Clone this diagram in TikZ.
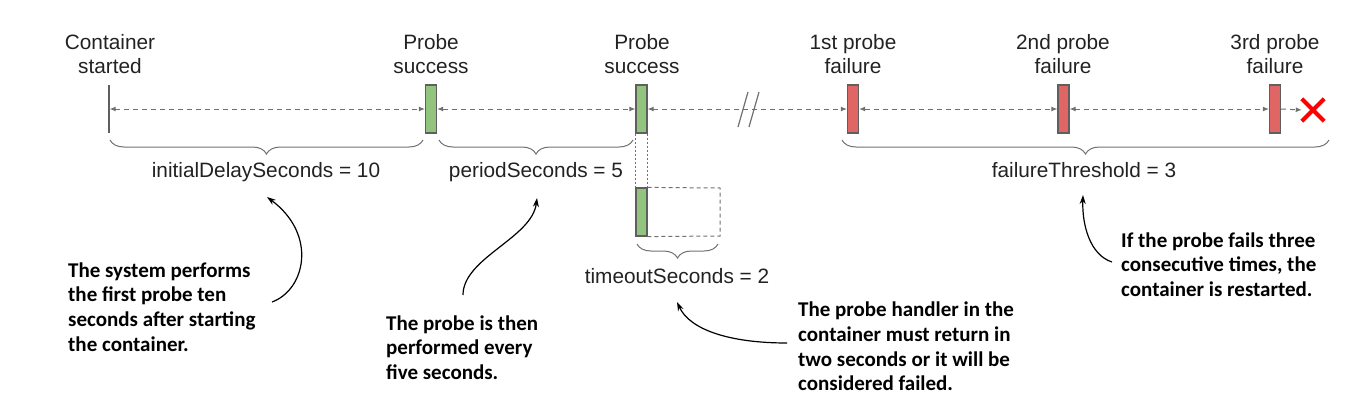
\documentclass[tikz,border=0pt]{standalone}
\usepackage{fontspec}
\setmainfont{Liberation Sans}
\newfontfamily\calibfont{Carlito}
\usetikzlibrary{arrows.meta,decorations.pathreplacing}
\definecolor{okgreen}{HTML}{93C47D}
\definecolor{badred}{HTML}{E06666}
\definecolor{edgegray}{HTML}{5F5F5F}
\definecolor{linegray}{HTML}{707070}
\definecolor{txt}{HTML}{222222}
\tikzset{
  probebox/.style={draw=edgegray, line width=1.2pt, minimum width=11pt, minimum height=48pt, inner sep=0pt},
  okbox/.style={probebox, fill=okgreen},
  badbox/.style={probebox, fill=badred},
  timelbl/.style={font=\fontsize{20.8}{24}\selectfont, text=txt, align=center, inner sep=0pt},
  notelbl/.style={font=\calibfont\bfseries\fontsize{21}{24.6}\selectfont, text=black, align=left, inner sep=0pt, anchor=west},
  dasharrow/.style={draw=linegray, line width=1pt, dash pattern=on 5pt off 4pt, {Latex[length=6pt,width=5pt]}-{Latex[length=6pt,width=5pt]}},
  dashend/.style={draw=linegray, line width=1pt, dash pattern=on 5pt off 4pt, -{Latex[length=6pt,width=5pt]}},
  bracestyle/.style={draw=linegray, line width=1pt, decorate, decoration={brace, mirror, amplitude=14pt, aspect=0.5}},
  notearrow/.style={draw=black, line width=1.2pt, -{Stealth[length=9pt,width=6pt]}},
}
\begin{document}
\begin{tikzpicture}[x=1pt,y=-1pt]
\useasboundingbox (0,0) rectangle (1361,415);

% top labels
\node[timelbl] (lc) at (110,54) {Container\\started};
\node[timelbl] (lp1) at (431,54) {Probe\\success};
\node[timelbl] (lp2) at (642,54) {Probe\\success};
\node[timelbl] (lf1) at (853,54) {1st probe\\failure};
\node[timelbl] (lf2) at (1063,54) {2nd probe\\failure};
\node[timelbl] (lf3) at (1275,54) {3rd probe\\failure};

% timeline markers
\node[fill=edgegray, minimum width=2pt, minimum height=48pt, inner sep=0pt] (c0) at (108.5,109) {};
\node[okbox] (p1) at (431,109) {};
\node[okbox] (p2) at (641.5,109) {};
\node[badbox] (f1) at (853,109) {};
\node[badbox] (f2) at (1063.5,109) {};
\node[badbox] (f3) at (1275,109) {};
\node[inner sep=0pt, minimum size=22pt] (xx) at (1313,110) {};
\draw[red, line width=4pt] (xx.north west) -- (xx.south east) (xx.north east) -- (xx.south west);

% dashed timeline
\draw[dasharrow] (c0.east) -- (p1.west);
\draw[dasharrow] (p1.east) -- (p2.west);
\draw[dasharrow] (p2.east) -- (f1.west);
\draw[dasharrow] (f1.east) -- (f2.west);
\draw[dasharrow] (f2.east) -- (f3.west);
\draw[dashend] (f3.east) -- (xx.west);
% break mark
\coordinate (brk) at (748,109);
\draw[linegray, line width=1.2pt] ([shift={(-10,18)}]brk) -- ([shift={(0,-17)}]brk);
\draw[linegray, line width=1.2pt] ([shift={(1,18)}]brk) -- ([shift={(11,-17)}]brk);

% braces
\draw[bracestyle] (110,140) -- (423,140);
\draw[bracestyle] (439,140) -- (633,140);
\draw[bracestyle] (842,140) -- (1329,140);
\node[timelbl] (l1) at (266,172) {initialDelaySeconds = 10};
\node[timelbl] (l2) at (536,172) {periodSeconds = 5};
\node[timelbl] (l3) at (1084,170) {failureThreshold = 3};

% timeout detail
\draw[linegray, line width=0.8pt, dash pattern=on 2pt off 2pt] (p2.south west) -- ++(0,55);
\draw[linegray, line width=0.8pt, dash pattern=on 2pt off 2pt] (p2.south east) -- ++(0,55);
\node[okbox] (p3) at (641.5,212) {};
\draw[draw=linegray, line width=1pt, dash pattern=on 4pt off 3pt] (p3.north east) -- (720,188) -- (720,236) -- (p3.south east);
\draw[bracestyle] (637,244) -- (718,244);
\node[timelbl] (l4) at (677,276) {timeoutSeconds = 2};

% annotations
\node[notelbl] (n1) at (68,307) {The system performs\\the first probe ten\\seconds after starting\\the container.};
\node[notelbl] (n2) at (386,347.5) {The probe is then\\performed every\\five seconds.};
\node[notelbl] (n3) at (798,346.5) {The probe handler in the\\container must return in\\two seconds or it will be\\considered failed.};
\node[notelbl] (n4) at (1121,264.5) {If the probe fails three\\consecutive times, the\\container is restarted.};

\coordinate (s1) at (272,302);
\coordinate (s2) at (463,295);
\coordinate (s3) at (787,343);
\coordinate (s4) at (1112,262);
\coordinate (t1) at (267,197);
\coordinate (t2) at (537,198);
\coordinate (t3) at (677,302);
\coordinate (t4) at (1083,195);
\draw[notearrow] (s1) .. controls (305,290) and (318,235) .. (t1);
\draw[notearrow] (s2) .. controls (463,258) and (532,238) .. (t2);
\draw[notearrow] (s3) .. controls (730,343) and (690,330) .. (t3);
\draw[notearrow] (s4) .. controls (1090,255) and (1082,225) .. (t4);
\end{tikzpicture}
\end{document}
